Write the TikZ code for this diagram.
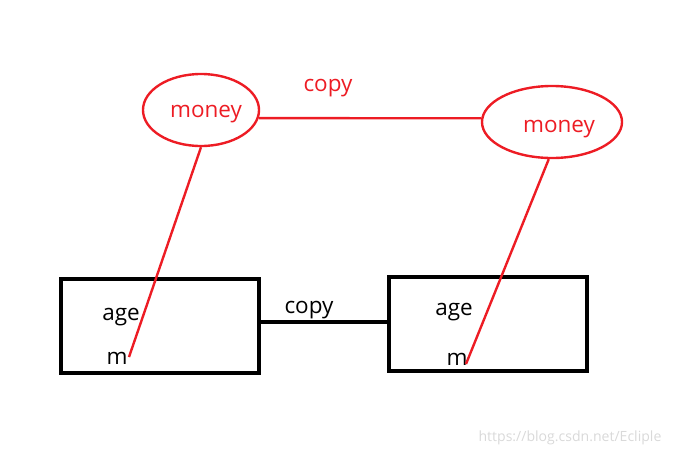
\documentclass[tikz,border=0pt]{standalone}
\usepackage{fontspec}
\setmainfont{Open Sans}
\usetikzlibrary{shapes.geometric}
\definecolor{pen}{RGB}{237,28,36}
\tikzset{
	obj/.style={draw, ellipse, line width=1.7pt, pen, inner sep=0},
	var/.style={draw, rectangle, line width=2.2pt, minimum width=4.95cm, minimum height=2.35cm},
	txt/.style={font=\fontsize{16}{18}\selectfont, inner sep=0}
}

\begin{document}
\begin{tikzpicture}[x=0.025cm, y=-0.025cm]
		\useasboundingbox (0,0) rectangle (677,456);
		\node[obj, minimum width=2.9cm, minimum height=1.8cm] (ml) at (201,110) {};
		\node[obj, minimum width=3.5cm, minimum height=1.8cm] (mr) at (552,122) {};
		\node[txt, text=pen] (nl) at (206,114) {money};
		\node[txt, text=pen] (nr) at (559,129) {money};
		\node[txt, text=pen] (c1) at (328,88) {copy};
		\draw[pen, line width=1.7pt] (ml.-8) -- (mr.177);
		\node[var] (bl) at (160,326) {};
		\node[var] (br) at (488,324) {};
		\node[txt] (al) at (121,317) {age};
		\node[txt] (ar) at (454,312) {age};
		\node[txt] (pl) at (117,358) {m};
		\node[txt] (pr) at (457,359) {m};
		\coordinate (el) at (129,357);
		\coordinate (er) at (466,364);
		\draw[pen, line width=1.7pt] (ml.south) -- (el);
		\draw[pen, line width=1.7pt] (mr.-95) -- (er);
		\draw[line width=2.2pt] (bl.east) ++(-3,-4) coordinate (cs) -- (cs -| br.west);
		\node[txt] (c2) at (309,310) {copy};
		\node[font=\fontsize{10}{12}\selectfont, text=black!15, inner sep=0] (wm) at (570,438) {https://blog.csdn.net/Ecliple};
	\end{tikzpicture}
\end{document}
